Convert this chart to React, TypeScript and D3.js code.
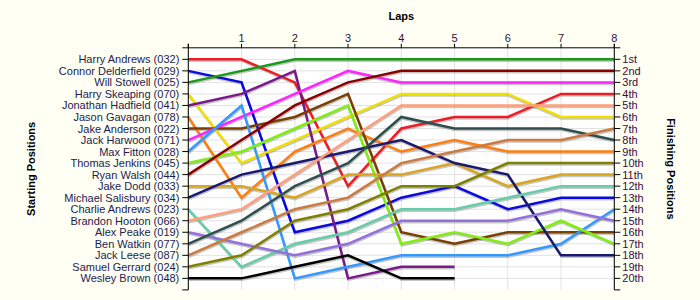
import React from "react";
import * as d3 from "d3";

const drivers = [
  "Harry Andrews (032)", "Connor Delderfield (029)", "Will Stowell (025)", "Harry Skeaping (070)",
  "Jonathan Hadfield (041)", "Jason Gavagan (078)", "Jake Anderson (022)", "Jack Harwood (071)",
  "Max Fitton (028)", "Thomas Jenkins (045)", "Ryan Walsh (044)", "Jake Dodd (033)",
  "Michael Salisbury (034)", "Charlie Andrews (023)", "Brandon Hooton (066)", "Alex Peake (019)",
  "Ben Watkin (077)", "Jack Leese (087)", "Samuel Gerrard (024)", "Wesley Brown (048)",
];

const colors = [
  "#ee1c24", "#0a0ae0", "#1a9a1a", "#f0e000", "#7a1a8a", "#ff7f0e", "#7b3f00", "#ff22ff",
  "#3399ff", "#80ee10", "#8b0000", "#daa520", "#191970", "#66cdaa", "#ffa07a", "#9370db",
  "#2f4f4f", "#cd7a3f", "#808000", "#000000",
];

const laps = [0, 1, 2, 3, 4, 5, 6, 7, 8];
const lapLabels = ["1", "2", "3", "4", "5", "6", "7", "8"];
const finishLabels = [
  "1st", "2nd", "3rd", "4th", "5th", "6th", "7th", "8th", "9th", "10th",
  "11th", "12th", "13th", "14th", "15th", "16th", "17th", "18th", "19th", "20th",
];

const positions: (number | null)[][] = [
  [1, 1, 3, 12, 7, 6, 6, 4, 4],
  [2, 3, 16, 15, 13, 12, 14, 13, 13],
  [3, 2, 1, 1, 1, 1, 1, 1, 1],
  [4, 10, 8, 6, 4, 4, 4, 6, 6],
  [5, 4, 2, 20, 19, 19, null, null, null],
  [6, 13, 9, 7, 9, 8, 9, 9, 9],
  [7, 7, 6, 4, 16, 17, 16, 16, 16],
  [8, 6, 4, 2, 3, 3, 3, 3, 3],
  [9, 5, 20, 19, 18, 18, 18, 17, 14],
  [10, 9, 7, 5, 17, 16, 17, 15, 17],
  [11, 8, 5, 3, 2, 2, 2, 2, 2],
  [12, 12, 13, 11, 11, 10, 12, 11, 11],
  [13, 11, 10, 9, 8, 10, 11, 18, 18],
  [14, 19, 17, 16, 14, 14, 13, 12, 12],
  [15, 14, 11, 8, 5, 5, 5, 5, 5],
  [16, 17, 18, 17, 15, 15, 15, 14, 15],
  [17, 15, 12, 10, 6, 7, 7, 7, 8],
  [18, 16, 14, 13, 10, 9, 8, 8, 7],
  [19, 18, 15, 14, 12, 12, 10, 10, 10],
  [20, 20, 19, 18, 20, 20, null, null, null],
];

export default function App() {
  const x = d3.scaleLinear().domain([0, 8]).range([188.3, 614.3]);
  const y = d3.scaleLinear().domain([0, 21]).range([47.8, 289.9]);
  const rows = d3.range(1, 21);
  const line = d3
    .line<number | null>()
    .defined((d) => d !== null)
    .x((_, i) => x(laps[i]))
    .y((d) => y(d as number));
  const font = "'Liberation Sans', Arial, sans-serif";
  const left = x(0);
  const right = x(8);
  const top = y(0);
  const bottom = y(21);
  return (
    <svg width={700} height={300} style={{ position: "absolute", left: 0, top: 0 }} fontFamily={font}>
      <rect x={0} y={0} width={700} height={300} fill="#fffff4" />
      <rect x={left} y={top} width={right - left} height={bottom - top} fill="#ffffff" />
      {laps.map((l) => (
        <line key={"gx" + l} x1={x(l)} x2={x(l)} y1={top} y2={bottom} stroke="#e2e2e2" />
      ))}
      {rows.map((r) => (
        <line key={"gy" + r} x1={left} x2={right} y1={y(r)} y2={y(r)} stroke="#e2e2e2" />
      ))}
      {positions.map((p, i) => (
        <path key={"s" + i} d={line(p) || ""} transform="translate(0.5,1.5)" fill="none" stroke="#808080" strokeOpacity={0.45} strokeWidth={2.5} />
      ))}
      {positions.map((p, i) => (
        <path key={"l" + i} d={line(p) || ""} fill="none" stroke={colors[i]} strokeWidth={2.5} strokeLinejoin="miter" />
      ))}
      <line x1={left} x2={right} y1={top} y2={top} stroke="#000" />
      <line x1={left} x2={left} y1={top - 4} y2={bottom} stroke="#000" />
      <line x1={right} x2={right} y1={top - 4} y2={bottom} stroke="#000" />
      {laps.map((l) => (
        <line key={"tx" + l} x1={x(l)} x2={x(l)} y1={top - 4} y2={top} stroke="#000" />
      ))}
      {lapLabels.map((t, i) => (
        <text key={"xl" + i} x={x(i + 1)} y={42} textAnchor="middle" fontSize={11} fill="#301040">{t}</text>
      ))}
      {[0, ...rows, 21].map((r) => (
        <g key={"ty" + r}>
          <line x1={left - 6} x2={left} y1={y(r)} y2={y(r)} stroke="#000" />
          <line x1={right} x2={right + 6} y1={y(r)} y2={y(r)} stroke="#000" />
        </g>
      ))}
      {drivers.map((d, i) => (
        <text key={"dl" + i} x={left - 9} y={y(i + 1) + 4} textAnchor="end" fontSize={11} fill="#1c1c50">{d}</text>
      ))}
      {finishLabels.map((t, i) => (
        <text key={"fl" + i} x={right + 8} y={y(i + 1) + 4} fontSize={11} fill="#3a0a3a">{t}</text>
      ))}
      <text x={(left + right) / 2} y={20} textAnchor="middle" fontSize={11} fontWeight="bold" fill="#000">Laps</text>
      <text transform={`translate(35,${(top + bottom) / 2}) rotate(-90)`} textAnchor="middle" fontSize={11} fontWeight="bold" fill="#000">Starting Positions</text>
      <text transform={`translate(667,${(top + bottom) / 2}) rotate(90)`} textAnchor="middle" fontSize={11} fontWeight="bold" fill="#000">Finishing Positions</text>
    </svg>
  );
}
